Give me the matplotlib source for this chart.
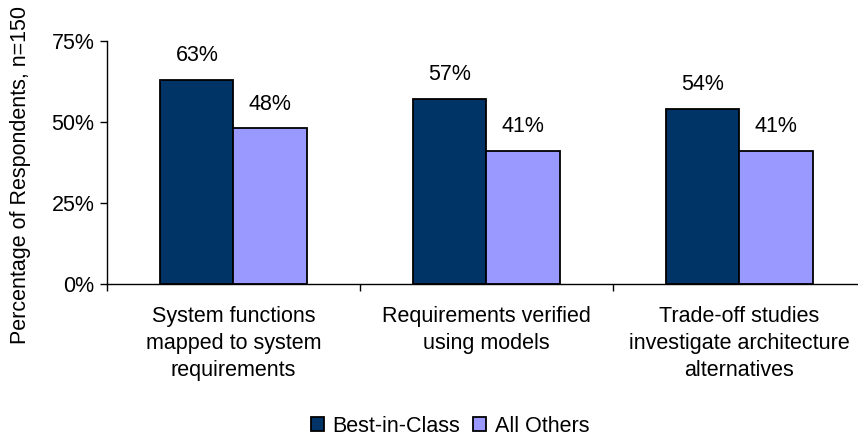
import matplotlib
matplotlib.use("Agg")
import matplotlib.pyplot as plt
import numpy as np

categories = ["System functions\nmapped to system\nrequirements",
              "Requirements verified\nusing models",
              "Trade-off studies\ninvestigate architecture\nalternatives"]
best_in_class = [63, 57, 54]
all_others = [48, 41, 41]
series_names = ["Best-in-Class", "All Others"]
y_ticks = [0, 25, 50, 75]

plt.rcParams['font.family'] = ['Liberation Sans', 'DejaVu Sans']
FS = 15.5

W, H = 858, 436
fig = plt.figure(figsize=(W/100, H/100), dpi=100)
left, right, bottom, top = 107, 866, 284, 41
ax = fig.add_axes([left/W, (H-bottom)/H, (right-left)/W, (bottom-top)/H])

x = np.arange(len(categories))
bw = 0.29
b1 = ax.bar(x - bw/2, best_in_class, bw, color="#003366", edgecolor="black", linewidth=1.3, label=series_names[0])
b2 = ax.bar(x + bw/2, all_others, bw, color="#9999FF", edgecolor="black", linewidth=1.3, label=series_names[1])

for bars, vals in ((b1, best_in_class), (b2, all_others)):
    for r, v in zip(bars, vals):
        ax.annotate(f"{v}%", (r.get_x() + r.get_width()/2, v), xytext=(0, 10),
                    textcoords="offset points", ha="center", va="bottom", fontsize=FS)

ax.set_xlim(-0.5, len(categories) - 0.5)
ax.set_ylim(0, 75)
ax.set_yticks(y_ticks)
ax.set_yticklabels([f"{t}%" for t in y_ticks], fontsize=FS)
ax.set_xticks(np.arange(-0.5, len(categories), 1.0))
ax.set_xticklabels([])
ax.set_xticks(x, minor=True)
ax.set_xticklabels(categories, minor=True, fontsize=FS, linespacing=1.37)
ax.tick_params(axis="x", which="minor", length=0, pad=16)
ax.tick_params(axis="x", which="major", length=5, direction="out", width=1)
ax.tick_params(axis="y", length=5, direction="out", width=1, pad=4)
for s in ("top", "right"):
    ax.spines[s].set_visible(False)
ax.spines["left"].set_linewidth(1)
ax.spines["bottom"].set_linewidth(1)

fig.text(21/W, 1 - 175/H, "Percentage of Respondents, n=150", rotation=90,
         ha="center", va="center", fontsize=FS)

fig.legend(handles=[b1, b2], labels=series_names, loc="center", bbox_to_anchor=(450/W, 1 - 426/H),
           ncol=2, frameon=False, fontsize=FS, handlelength=0.6, handleheight=0.6,
           handletextpad=0.4, columnspacing=0.6)

fig.savefig("out.png", dpi=100)
